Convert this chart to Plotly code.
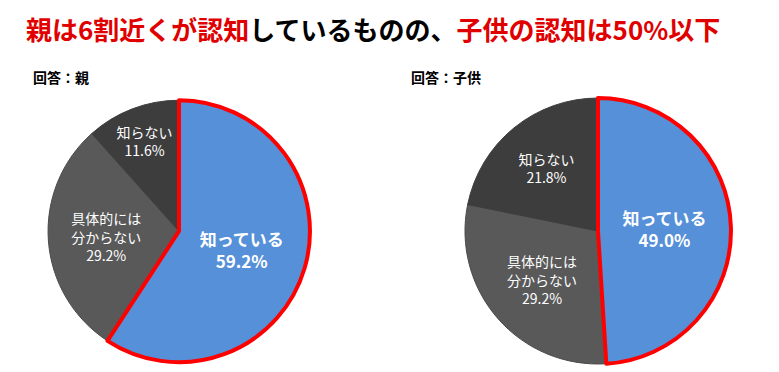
import plotly.graph_objects as go

labels = ["知っている", "具体的には<br>分からない", "知らない"]
parent_values = [59.2, 29.2, 11.6]
child_values = [49.0, 29.2, 21.8]
colors = ["#5690D8", "#595959", "#3D3D3D"]
title_red1 = "親は6割近くが認知"
title_black = "しているものの、"
title_red2 = "子供の認知は50%以下"
sub_parent = "回答：親"
sub_child = "回答：子供"

FONT = "Noto Sans CJK JP"

def texts(vals):
    out = []
    for i, (l, v) in enumerate(zip(labels, vals)):
        if i == 0:
            s = f"<b>{l}</b><br><b>{v:.1f}%</b>"
        else:
            s = f"{l}<br>{v:.1f}%"
        out.append(s)
    return out

def add_pie(fig, vals, dom):
    fig.add_trace(go.Pie(
        values=vals, labels=labels, text=texts(vals), textinfo="text",
        sort=False, direction="clockwise", rotation=0,
        marker=dict(colors=colors, line=dict(color=["#3D3D3D", "#4a4a4a", "#3D3D3D"], width=1)),
        textposition="inside", insidetextorientation="horizontal",
        textfont=dict(family=FONT, color="white", size=[17, 14, 14]),
        domain=dom, showlegend=False, hoverinfo="label+value",
    ))
    fig.add_trace(go.Pie(
        values=vals, labels=labels, textinfo="none",
        sort=False, direction="clockwise", rotation=0,
        marker=dict(colors=["rgba(0,0,0,0)"] * 3,
                    line=dict(color=["#FF0000", "rgba(0,0,0,0)", "rgba(0,0,0,0)"], width=[4, 0, 0])),
        domain=dom, showlegend=False, hoverinfo="skip",
    ))

fig = go.Figure()
add_pie(fig, parent_values, dict(x=[0.0513, 0.3877], y=[0.048, 0.752]))
add_pie(fig, child_values, dict(x=[0.5866, 0.9281], y=[0.043, 0.758]))

fig.add_annotation(
    text=f"<span style='color:#E00000'>{title_red1}</span><span style='color:#000000'>{title_black}</span><span style='color:#E00000'>{title_red2}</span>",
    x=16 / 779, y=1 - 21 / 372, xref="paper", yref="paper", xanchor="left", yanchor="middle",
    showarrow=False, font=dict(family=FONT, size=26, weight="bold"),
)
fig.add_annotation(text=f"<b>{sub_parent}</b>", x=23 / 779, y=1 - 69 / 372, xref="paper", yref="paper",
                   xanchor="left", yanchor="middle", showarrow=False, font=dict(family=FONT, size=14, color="#000"))
fig.add_annotation(text=f"<b>{sub_child}</b>", x=401 / 779, y=1 - 69 / 372, xref="paper", yref="paper",
                   xanchor="left", yanchor="middle", showarrow=False, font=dict(family=FONT, size=14, color="#000"))

fig.update_layout(width=779, height=372, margin=dict(l=0, r=0, t=0, b=0),
                  paper_bgcolor="white", plot_bgcolor="white")
fig.write_html("out.html")
